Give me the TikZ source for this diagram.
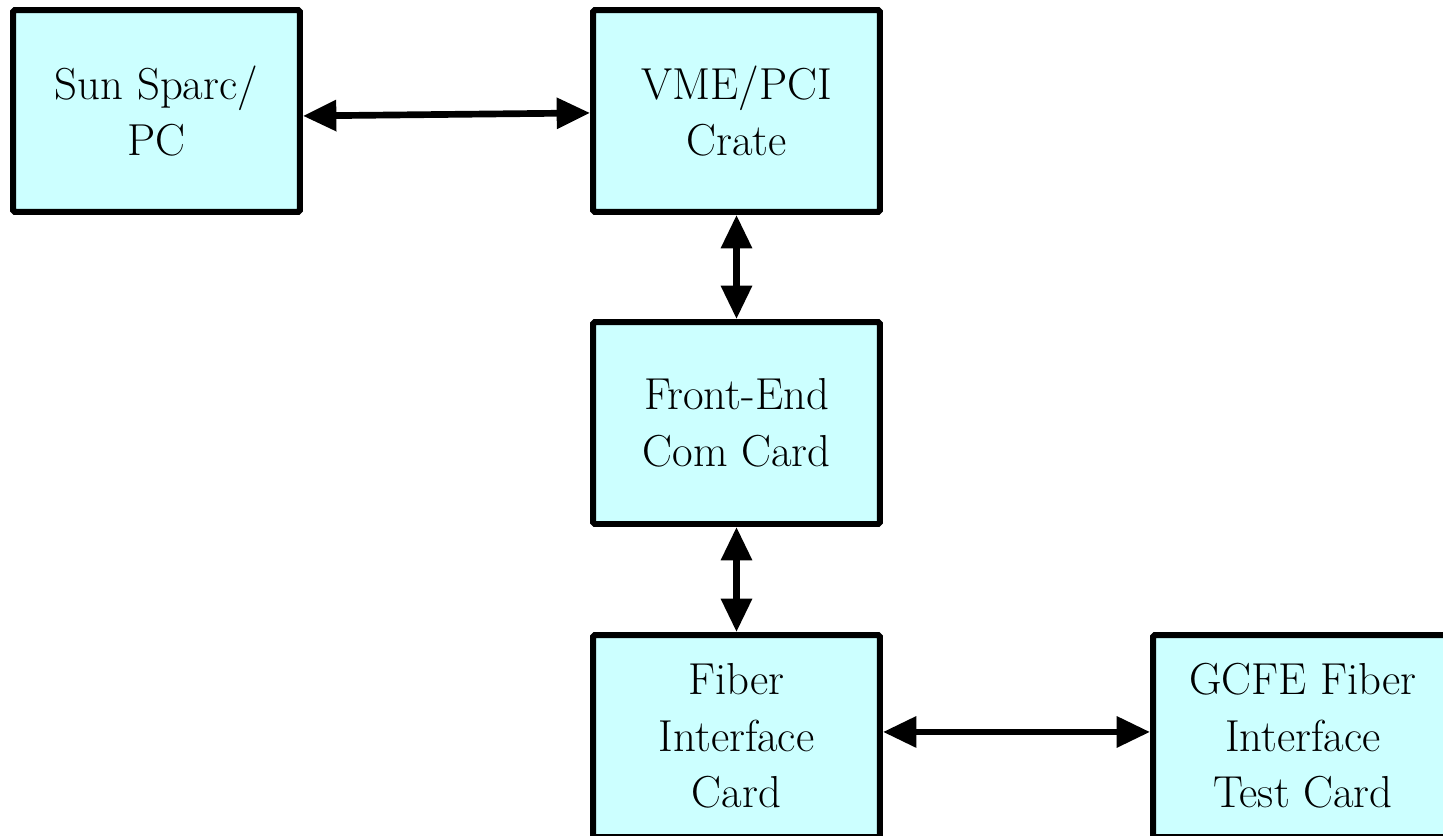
\documentclass[tikz,border=0pt]{standalone}
\usetikzlibrary{positioning,arrows.meta}
\definecolor{boxcyan}{RGB}{204,255,255}

\begin{document}
\begin{tikzpicture}[x=0.02cm, y=-0.02cm,
    card/.style = {draw, fill=boxcyan, line width=3.4pt, rounded corners=1pt,
        minimum width=5.74cm, minimum height=4.04cm, inner sep=0pt,
        align=center, font=\fontsize{25.5}{32.1}\selectfont},
    link/.style = {{Triangle[length=19pt,width=17pt]}-{Triangle[length=19pt,width=17pt]},
        line width=3.8pt}]
    \useasboundingbox (0,0) rectangle (1443,835);
    \node[card] (sun)  at (156.5,111) {Sun Sparc/\\PC};
    \node[card] (vme)  at (736.5,111) {VME/PCI\\Crate};
    \node[card] (fecc) at (736.5,423) {Front-End\\Com Card};
    \node[card] (fic)  at (736.5,736) {Fiber\\Interface\\Card};
    \node[card, minimum width=6cm] (gcfe) at (1303,736) {GCFE Fiber\\Interface\\Test Card};
    \draw [link] ([yshift=-2.8pt]sun.east) -- ([yshift=-1.1pt]vme.west);
    \draw [link] (vme)  -- (fecc);
    \draw [link] (fecc) -- (fic);
    \draw [link] ([yshift=2.3pt]fic.east) -- ([yshift=2.3pt]gcfe.west);
\end{tikzpicture}
\end{document}
